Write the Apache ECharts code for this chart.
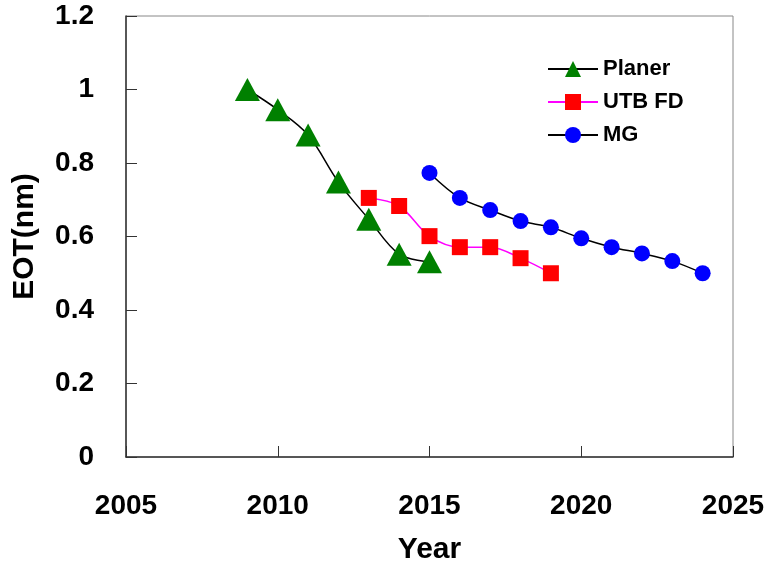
<!DOCTYPE html>
<html><head><meta charset="utf-8">
<script src="https://cdn.jsdelivr.net/npm/echarts@6/dist/echarts.min.js"></script>
<style>html,body{margin:0;padding:0;background:#fff}#c{width:774px;height:569px}</style>
</head><body><div id="c"></div>
<script>
const planerYears = [2009, 2010, 2011, 2012, 2013, 2014, 2015];
const planerEOT = [1.0, 0.945, 0.876, 0.748, 0.647, 0.552, 0.531];
const utbYears = [2013, 2014, 2015, 2016, 2017, 2018, 2019];
const utbEOT = [0.705, 0.683, 0.601, 0.571, 0.571, 0.541, 0.5];
const mgYears = [2015, 2016, 2017, 2018, 2019, 2020, 2021, 2022, 2023, 2024];
const mgEOT = [0.773, 0.705, 0.672, 0.642, 0.625, 0.595, 0.571, 0.554, 0.533, 0.5];
const xTicks = [2005, 2010, 2015, 2020, 2025];
const yTicks = [0, 0.2, 0.4, 0.6, 0.8, 1, 1.2];

const zip = (a, b) => a.map((v, i) => [v, b[i]]);
const font = 'Liberation Sans';
const chart = echarts.init(document.getElementById('c'));
chart.setOption({
  animation: false,
  grid: {left: 126, right: 41, top: 16, bottom: 112, show: true, borderColor: '#888', borderWidth: 1,
    outerBoundsMode: 'none', containLabel: false},
  legend: {
    left: 542, top: 53, orient: 'vertical', itemGap: 11, itemWidth: 50, itemHeight: 20,
    textStyle: {fontFamily: font, fontWeight: 'bold', fontSize: 22, color: '#000'},
    data: ['Planer', 'UTB FD', 'MG']
  },
  xAxis: {
    type: 'value', min: 2005, max: 2025, interval: 5,
    name: 'Year', nameLocation: 'middle', nameGap: 78,
    nameTextStyle: {fontFamily: font, fontWeight: 'bold', fontSize: 30, color: '#000'},
    axisLine: {lineStyle: {color: '#333', width: 1.5}},
    axisTick: {inside: true, length: 11, lineStyle: {color: '#333'}},
    splitLine: {show: false},
    axisLabel: {margin: 35, fontFamily: font, fontWeight: 'bold', fontSize: 28, color: '#000',
      formatter: v => xTicks.includes(v) ? String(v) : ''}
  },
  yAxis: {
    type: 'value', min: 0, max: 1.2, interval: 0.2,
    name: 'EOT(nm)', nameLocation: 'middle', nameGap: 86, nameRotate: 90,
    nameTextStyle: {fontFamily: font, fontWeight: 'bold', fontSize: 30, color: '#000'},
    axisLine: {show: true, lineStyle: {color: '#333', width: 1.5}},
    axisTick: {show: true, inside: true, length: 11, lineStyle: {color: '#333'}},
    splitLine: {show: false},
    axisLabel: {margin: 32, fontFamily: font, fontWeight: 'bold', fontSize: 28, color: '#000',
      formatter: v => { const t = yTicks.find(y => Math.abs(y - v) < 1e-6); return t === undefined ? '' : String(t); }}
  },
  series: [
    {name: 'Planer', type: 'line', data: zip(planerYears, planerEOT), smooth: 0.35,
      symbol: 'triangle', symbolSize: [25, 23],
      lineStyle: {color: '#000', width: 1.5}, itemStyle: {color: '#008000'}},
    {name: 'UTB FD', type: 'line', data: zip(utbYears, utbEOT), smooth: 0.35,
      symbol: 'rect', symbolSize: 16,
      lineStyle: {color: '#ff00ff', width: 1.5}, itemStyle: {color: '#ff0000'}},
    {name: 'MG', type: 'line', data: zip(mgYears, mgEOT), smooth: 0.35,
      symbol: 'circle', symbolSize: 16,
      lineStyle: {color: '#000', width: 1.5}, itemStyle: {color: '#0000ff'}}
  ]
});
</script></body></html>
